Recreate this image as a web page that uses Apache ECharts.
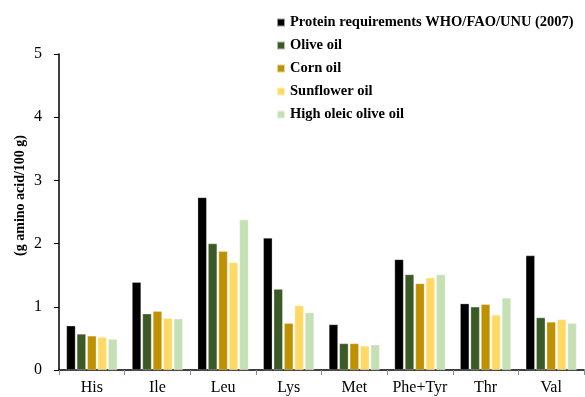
<!DOCTYPE html>
<html>
<head>
<meta charset="utf-8">
<script src="https://cdn.jsdelivr.net/npm/echarts@6/dist/echarts.min.js"></script>
<style>
  html, body { margin: 0; padding: 0; background: #fff; }
  #chart { width: 585px; height: 397px; }
</style>
</head>
<body>
<div id="chart"></div>
<script>
  // amino acids
  var categories = ['His', 'Ile', 'Leu', 'Lys', 'Met', 'Phe+Tyr', 'Thr', 'Val'];
  var yTicks = [0, 1, 2, 3, 4, 5];

  var whoValues = [0.70, 1.39, 2.73, 2.09, 0.72, 1.75, 1.05, 1.81];
  var oliveValues = [0.57, 0.89, 2.00, 1.28, 0.42, 1.51, 1.00, 0.83];
  var cornValues = [0.54, 0.93, 1.88, 0.74, 0.42, 1.37, 1.04, 0.76];
  var sunflowerValues = [0.52, 0.82, 1.70, 1.02, 0.38, 1.46, 0.87, 0.80];
  var highOleicValues = [0.49, 0.81, 2.38, 0.91, 0.40, 1.51, 1.14, 0.74];

  var seriesNames = [
    'Protein requirements WHO/FAO/UNU (2007)',
    'Olive oil',
    'Corn oil',
    'Sunflower oil',
    'High oleic olive oil'
  ];
  var seriesData = [whoValues, oliveValues, cornValues, sunflowerValues, highOleicValues];
  var colors = ['#000000', '#3B5A26', '#BF9000', '#FFD966', '#C5E0B4'];

  var font = '"Liberation Serif", "Times New Roman", serif';

  var chart = echarts.init(document.getElementById('chart'), null, { renderer: 'canvas' });

  var series = seriesData.map(function (d, i) {
    return {
      name: seriesNames[i],
      type: 'bar',
      data: d,
      barWidth: 9,
      barGap: '16%',
      itemStyle: { color: colors[i], borderColor: 'rgba(255,255,255,0.6)', borderWidth: 0.5 }
    };
  });

  var option = {
    animation: false,
    color: colors,
    textStyle: { fontFamily: font },
    grid: { left: 59, right: 1, top: 54, bottom: 27, containLabel: false },
    legend: {
      orient: 'vertical',
      left: 271,
      top: 10,
      itemWidth: 8,
      itemHeight: 8,
      itemGap: 8,
      icon: 'rect',
      data: seriesNames,
      textStyle: { fontFamily: font, fontWeight: 'bold', fontSize: 14.5, lineHeight: 15, color: '#000' }
    },
    // rotated y-axis title sits a bit above the axis middle in the original
    graphic: [{
      type: 'text',
      left: 13,
      top: 135,
      rotation: Math.PI / 2,
      style: {
        text: '(g amino acid/100 g)',
        font: 'bold 14px ' + font,
        fill: '#000'
      }
    }],
    xAxis: {
      type: 'category',
      data: categories,
      axisLine: { lineStyle: { color: '#000', width: 1.5 } },
      axisTick: { show: true, length: 5, lineStyle: { color: '#888' } },
      axisLabel: { color: '#000', fontFamily: font, fontSize: 16, margin: 10, interval: 0 }
    },
    yAxis: {
      type: 'value',
      min: 0,
      max: 5,
      interval: 1,
      axisLine: { show: true, lineStyle: { color: '#000', width: 1.5 } },
      axisTick: { show: true, length: 5, lineStyle: { color: '#000' } },
      splitLine: { show: false },
      axisLabel: {
        color: '#000', fontFamily: font, fontSize: 16, margin: 17,
        formatter: function (v) { return yTicks.indexOf(v) >= 0 ? String(v) : ''; }
      }
    },
    series: series
  };

  chart.setOption(option);
</script>
</body>
</html>
